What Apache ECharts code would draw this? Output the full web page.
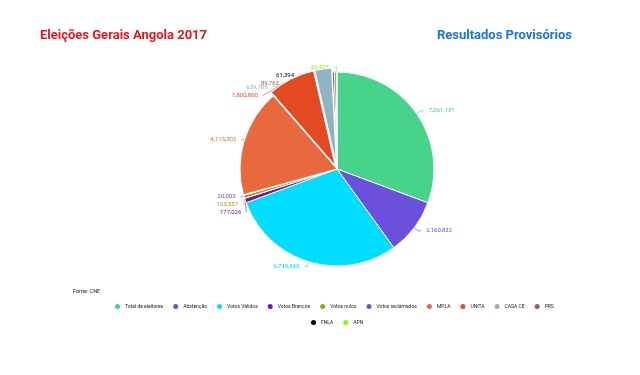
<!DOCTYPE html>
<html>
<head>
<meta charset="utf-8">
<script src="https://cdn.jsdelivr.net/npm/echarts@6/dist/echarts.min.js"></script>
<style>
  html, body { margin: 0; padding: 0; background: #fff; }
  #main { width: 640px; height: 375px; }
</style>
</head>
<body>
<div id="main"></div>
<script>
// dados (CNE, resultados provisórios)
var categorias = ["Total de eleitores", "Abstenção", "Votos Válidos", "Votos Brancos", "Votos nulos",
  "Votos reclamados", "MPLA", "UNITA", "CASA CE", "PRS", "FNLA", "APN"];
var valores = [7061131, 2160832, 6740545, 177026, 123557, 20003, 4115302, 1800860, 639789, 89763, 61394, 33427];
var cores = ["#48d38b", "#6a50dc", "#00ddff", "#7a12b5", "#a89c10", "#6a50dc", "#e8693e", "#e44a22",
  "#8fb5c5", "#9c5b5d", "#000000", "#80ff00"];
var destacados = ["UNITA", "CASA CE"];

window.onload = function () {
  var chart = echarts.init(document.getElementById("main"));
  var dados = categorias.map(function (c, i) {
    return { name: c, value: valores[i], selected: destacados.indexOf(c) >= 0 };
  });
  var legendaBase = {
    icon: "circle", itemWidth: 7, itemHeight: 7, itemGap: 8,
    textStyle: { fontSize: 5, color: "#222", fontFamily: "Roboto", padding: [0, 0, 0, -1] },
    selectedMode: false
  };
  var option = {
    color: cores,
    title: [
      { text: "Eleições Gerais Angola 2017", left: 35, top: 24,
        textStyle: { color: "#e8141e", fontSize: 13, fontWeight: "bold", fontFamily: "Roboto" } },
      { text: "Resultados Provisórios", right: 63, top: 24,
        textStyle: { color: "#1a73e8", fontSize: 13, fontWeight: "bold", fontFamily: "Roboto" } },
      { text: "Fonte: CNE", left: 68, top: 284,
        textStyle: { color: "#222", fontSize: 5.5, fontWeight: "normal", fontFamily: "Roboto" } }
    ],
    // duas linhas de legenda
    legend: [
      Object.assign({}, legendaBase, { left: 108, top: 297, data: categorias.slice(0, 10) }),
      Object.assign({}, legendaBase, { left: 304, top: 313, data: categorias.slice(10) })
    ],
    series: [{
      type: "pie",
      center: [337, 169],
      radius: [0, 97],
      startAngle: 90,
      clockwise: true,
      selectedMode: "multiple",
      selectedOffset: 4,
      avoidLabelOverlap: true,
      itemStyle: { borderColor: "#fff", borderWidth: 1 },
      label: {
        color: "inherit", fontSize: 6, fontFamily: "Roboto",
        formatter: function (p) { return p.value.toLocaleString("en-US"); }
      },
      labelLine: { length: 5, length2: 3, lineStyle: { width: 0.6 } },
      data: dados
    }]
  };
  chart.setOption(option);
};
</script>
</body>
</html>
